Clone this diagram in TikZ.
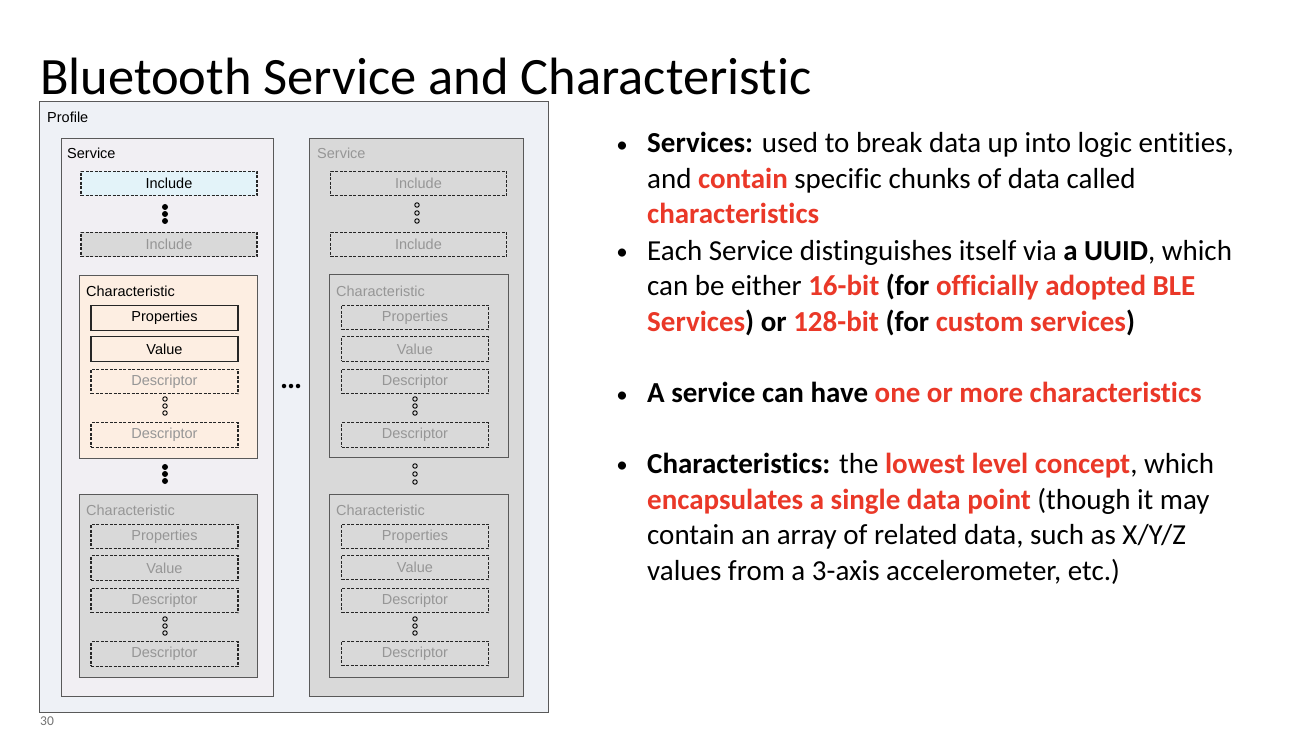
\documentclass[tikz,border=0pt]{standalone}
\usepackage{fontspec}
\setmainfont{Carlito}[Ligatures=NoCommon]
\newfontfamily\diagfont{Liberation Sans}
\usepackage{xcolor}
\usetikzlibrary{positioning,calc}
\definecolor{hired}{RGB}{234,56,40}
\definecolor{profbg}{RGB}{238,241,246}
\definecolor{srvbg}{RGB}{241,239,243}
\definecolor{incbg}{RGB}{227,243,249}
\definecolor{chrbg}{RGB}{253,238,226}
\definecolor{offbg}{RGB}{217,217,217}
\definecolor{gtext}{RGB}{150,150,150}
\newcommand{\redb}[1]{\textcolor{hired}{\textbf{#1}}}

\begin{document}
\begin{tikzpicture}[x=1pt, y=-1pt,
    cont/.style={draw=black!65, line width=0.9pt, anchor=north west, inner sep=0},
    box/.style={draw=black!85, line width=1.1pt, inner sep=0, minimum height=24.5,
                font=\diagfont\fontsize{14.5}{16}\selectfont},
    inc/.style={box, minimum width=176},
    item/.style={box, minimum width=147},
    ghost/.style={dash pattern=on 3pt off 1.5pt, text=gtext},
    lbl/.style={anchor=base west, inner sep=0, font=\diagfont\fontsize{14.5}{16}\selectfont},
    dot/.style={circle, fill=black, inner sep=0, minimum size=6},
    odot/.style={circle, draw=black, line width=0.9pt, inner sep=0, minimum size=4.5},
    txt/.style={anchor=base west, align=left, inner sep=0, font=\fontsize{29}{35.5}\selectfont},
    bul/.style={anchor=base, inner sep=0, font=\fontsize{23}{30}\selectfont}]
  \fill[white] (0,0) rectangle (1296,754);
  \useasboundingbox (0,0) rectangle (1296,754);

  \node[anchor=base west, inner sep=0, font=\fontsize{52.5}{60}\selectfont] (title) at (40,95)
    {Bluetooth Service and Characteristic};

  % profile and the two services
  \node[cont, fill=profbg, minimum width=509, minimum height=611] (prof) at (39,101) {};
  \node[lbl] (profl) at (47,123) {Profile};
  \node[cont, fill=srvbg, minimum width=212, minimum height=558] (srvA) at (61,138) {};
  \node[lbl] (srvAl) at (67,159) {Service};
  \node[cont, fill=offbg, minimum width=214, minimum height=558] (srvB) at (309,138) {};
  \node[lbl, text=gtext] (srvBl) at (317,159) {Service};

  % first service, fully shown
  \node[inc, fill=incbg, dash pattern=on 3pt off 1.5pt] (incA1) at (169,183.5) {Include};
  \foreach \y [count=\i] in {207,214,221} \node[dot] (dA\i) at (165,\y) {};
  \node[inc, ghost, fill=offbg] (incA2) at (169,244.5) {Include};

  \node[cont, fill=chrbg, minimum width=178, minimum height=183] (chrA1) at (79,275) {};
  \node[lbl] (chrA1l) at (86,296) {Characteristic};
  \node[item, fill=chrbg] (propA1) at (164.5,318) {Properties};
  \node[item, fill=chrbg] (valA1) at (164.5,349) {Value};
  \node[item, ghost] (descA1) at (164.5,381.5) {Descriptor};
  \foreach \y [count=\i] in {399,406,413} \node[odot] (oA1\i) at (165,\y) {};
  \node[item, ghost] (descA1b) at (164.5,435) {Descriptor};

  \foreach \y [count=\i] in {467,474,481} \node[dot] (cA\i) at (165,\y) {};

  \node[cont, fill=offbg, minimum width=178, minimum height=183] (chrA2) at (79,494) {};
  \node[lbl, text=gtext] (chrA2l) at (86,515) {Characteristic};
  \node[item, ghost] (propA2) at (164.5,536.5) {Properties};
  \node[item, ghost] (valA2) at (164.5,568) {Value};
  \node[item, ghost] (descA2) at (164.5,600.5) {Descriptor};
  \foreach \y [count=\i] in {619,626,633} \node[odot] (oA2\i) at (165,\y) {};
  \node[item, ghost] (descA2b) at (164.5,654) {Descriptor};

  % more services in between
  \foreach \x [count=\i] in {284,291,298} \node[dot, minimum size=4.5] (mid\i) at (\x,386) {};

  % second service, greyed out
  \node[inc, ghost] (incB1) at (418.5,183.5) {Include};
  \foreach \y [count=\i] in {205,213,221} \node[odot] (dB\i) at (417,\y) {};
  \node[inc, ghost] (incB2) at (418.5,244.5) {Include};

  \node[cont, fill=offbg, minimum width=179, minimum height=183] (chrB1) at (329,274) {};
  \node[lbl, text=gtext] (chrB1l) at (336,296) {Characteristic};
  \node[item, ghost] (propB1) at (415,317.5) {Properties};
  \node[item, ghost] (valB1) at (415,349) {Value};
  \node[item, ghost] (descB1) at (415,381.5) {Descriptor};
  \foreach \y [count=\i] in {399,406,413} \node[odot] (oB1\i) at (415,\y) {};
  \node[item, ghost] (descB1b) at (415,435) {Descriptor};

  \foreach \y [count=\i] in {466,474,482} \node[odot] (cB\i) at (415,\y) {};

  \node[cont, fill=offbg, minimum width=179, minimum height=183] (chrB2) at (329,494) {};
  \node[lbl, text=gtext] (chrB2l) at (336,515) {Characteristic};
  \node[item, ghost] (propB2) at (415,536.5) {Properties};
  \node[item, ghost] (valB2) at (415,567.5) {Value};
  \node[item, ghost] (descB2) at (415,600.5) {Descriptor};
  \foreach \y [count=\i] in {619,626,633} \node[odot] (oB2\i) at (415,\y) {};
  \node[item, ghost] (descB2b) at (415,653.5) {Descriptor};

  \node[anchor=base west, inner sep=0, font=\fontsize{13.5}{15}\selectfont, text=black!55] (pg) at (40,725) {30};

  % bullet list on the right (base anchor sits on the last line)
  \node[txt] (it1) at (647,224) {\textbf{Services:} used to break data up into logic entities,\\
    and \redb{contain} specific chunks of data called\\
    \redb{characteristics}};
  \node[txt] (it2) at (647,331) {Each Service distinguishes itself via \textbf{a UUID}, which\\
    can be either \redb{16-bit} \textbf{(for} \redb{officially adopted BLE}\\
    \redb{Services}\textbf{) or} \redb{128-bit} \textbf{(for} \redb{custom services}\textbf{)}};
  \node[txt] (it3) at (647,402) {\textbf{A service can have} \redb{one or more characteristics}};
  \node[txt] (it4) at (647,580) {\textbf{Characteristics:} the \redb{lowest level concept}, which\\
    \redb{encapsulates a single data point} (though it may\\
    contain an array of related data, such as X/Y/Z\\
    values from a 3-axis accelerometer, etc.)};
  \foreach \y [count=\i] in {153,260,402,472} \node[bul] (bu\i) at (622,\y) {•};
\end{tikzpicture}
\end{document}
